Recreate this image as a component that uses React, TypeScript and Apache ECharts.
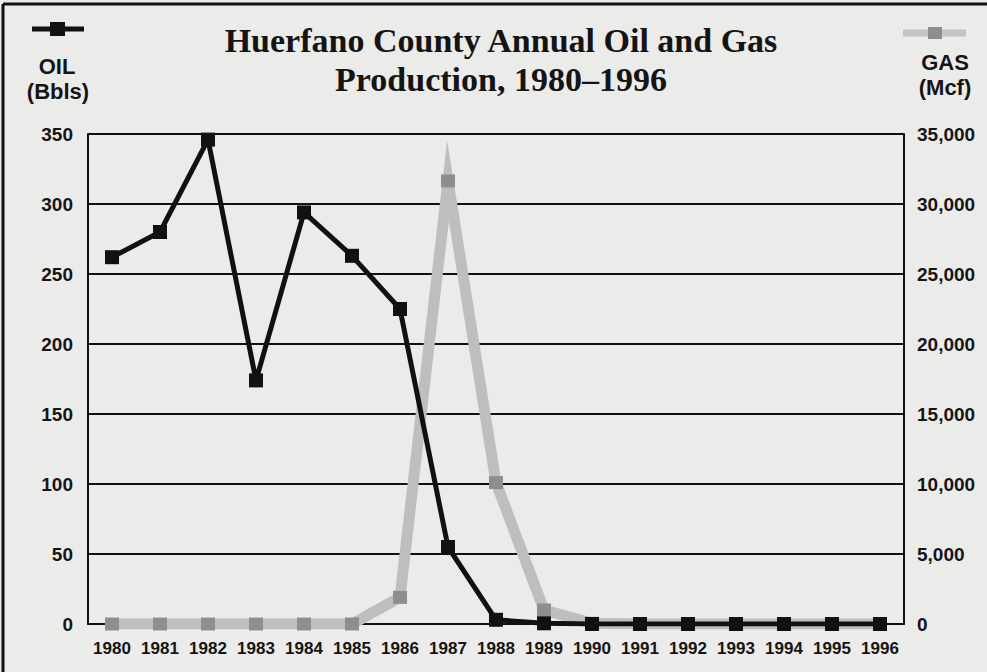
import React, { useEffect, useRef } from "react";
import * as echarts from "echarts";

const years = ["1980","1981","1982","1983","1984","1985","1986","1987","1988","1989","1990","1991","1992","1993","1994","1995","1996"];
const oilBbls = [262, 280, 346, 174, 294, 263, 225, 55, 3, 0.5, 0, 0, 0, 0, 0, 0, 0];
const gasMcf = [0, 0, 0, 0, 0, 0, 1900, 31650, 10100, 1000, 50, 0, 0, 0, 0, 0, 0];
const titleLines = ["Huerfano County Annual Oil and Gas", "Production, 1980–1996"];

export default function App() {
  const ref = useRef<HTMLDivElement>(null);
  useEffect(() => {
    if (!ref.current) return;
    const chart = echarts.init(ref.current, null, { renderer: "svg" });
    const sans = "'Liberation Sans', Arial, sans-serif";
    chart.setOption({
      animation: false,
      backgroundColor: "#ebebea",
      title: {
        text: titleLines.join("\n"),
        left: 496,
        top: 16,
        textAlign: "center",
        textStyle: {
          fontFamily: "'Liberation Serif', 'Times New Roman', serif",
          fontWeight: "bold",
          fontSize: 34,
          lineHeight: 39,
          color: "#141414",
        },
      },
      grid: { left: 88, right: 83, top: 134, bottom: 48 },
      xAxis: {
        type: "category",
        data: years,
        boundaryGap: true,
        axisLine: { lineStyle: { color: "#111", width: 2 } },
        axisTick: { alignWithLabel: true, inside: true, length: 11, lineStyle: { color: "#111", width: 2 } },
        axisLabel: { interval: 0, margin: 16, fontFamily: sans, fontWeight: "bold", fontSize: 17, color: "#151515" },
        splitLine: { show: false },
      },
      yAxis: [
        {
          type: "value",
          min: 0,
          max: 350,
          interval: 50,
          axisLine: { show: true, lineStyle: { color: "#111", width: 2 } },
          axisTick: { show: false },
          axisLabel: { margin: 15, fontFamily: sans, fontWeight: "bold", fontSize: 19, color: "#151515" },
          splitLine: { show: true, lineStyle: { color: "#111", width: 2 } },
        },
        {
          type: "value",
          min: 0,
          max: 35000,
          interval: 5000,
          position: "right",
          axisLine: { show: true, lineStyle: { color: "#111", width: 2 } },
          axisTick: { show: false },
          axisLabel: {
            margin: 13,
            fontFamily: sans,
            fontWeight: "bold",
            fontSize: 19,
            color: "#151515",
            formatter: (v: number) => v.toLocaleString("en-US"),
          },
          splitLine: { show: false },
        },
      ],
      series: [
        {
          name: "GAS",
          type: "line",
          yAxisIndex: 1,
          data: gasMcf,
          showAllSymbol: true,
          symbol: "rect",
          symbolSize: [14, 13],
          itemStyle: { color: "#8e8e8e" },
          lineStyle: { color: "#bebebe", width: 11, join: "miter", miterLimit: 20 },
          z: 2,
        },
        {
          name: "OIL",
          type: "line",
          yAxisIndex: 0,
          data: oilBbls,
          showAllSymbol: true,
          symbol: "rect",
          symbolSize: 14,
          itemStyle: { color: "#111" },
          lineStyle: { color: "#111", width: 5 },
          z: 3,
        },
      ],
      graphic: [
        { type: "line", shape: { x1: 3, y1: 4, x2: 987, y2: 4 }, style: { stroke: "#111", lineWidth: 3 } },
        { type: "line", shape: { x1: 3, y1: 4, x2: 3, y2: 672 }, style: { stroke: "#111", lineWidth: 3 } },
        { type: "line", shape: { x1: 32, y1: 29, x2: 84, y2: 29 }, style: { stroke: "#111", lineWidth: 5 } },
        { type: "rect", shape: { x: 50, y: 22, width: 15, height: 14 }, style: { fill: "#111" } },
        { type: "line", shape: { x1: 903, y1: 33, x2: 966, y2: 33 }, style: { stroke: "#c4c4c4", lineWidth: 7 } },
        { type: "rect", shape: { x: 928, y: 27, width: 14, height: 12 }, style: { fill: "#8e8e8e" } },
        {
          type: "text", x: 57, y: 66,
          style: { text: "OIL", fontFamily: sans, fontWeight: "bold", fontSize: 22, fill: "#151515", align: "center", verticalAlign: "middle" },
        },
        {
          type: "text", x: 58, y: 91,
          style: { text: "(Bbls)", fontFamily: sans, fontWeight: "bold", fontSize: 22, fill: "#151515", align: "center", verticalAlign: "middle" },
        },
        {
          type: "text", x: 945, y: 62,
          style: { text: "GAS", fontFamily: sans, fontWeight: "bold", fontSize: 22, fill: "#151515", align: "center", verticalAlign: "middle" },
        },
        {
          type: "text", x: 945, y: 87,
          style: { text: "(Mcf)", fontFamily: sans, fontWeight: "bold", fontSize: 22, fill: "#151515", align: "center", verticalAlign: "middle" },
        },
      ],
    });
    return () => chart.dispose();
  }, []);
  return <div ref={ref} style={{ position: "fixed", left: 0, top: 0, width: 987, height: 672 }} />;
}
